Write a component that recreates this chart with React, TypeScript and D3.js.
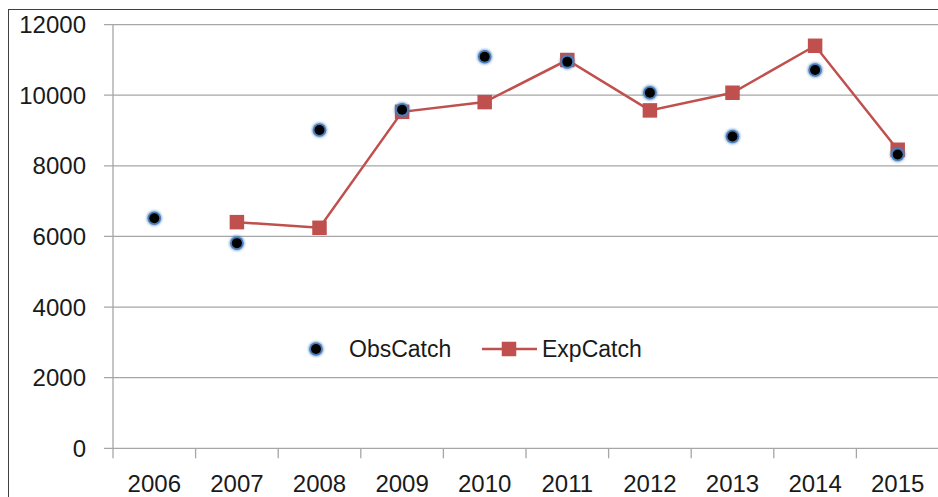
import React from "react";
import * as d3 from "d3";

const years = ["2006", "2007", "2008", "2009", "2010", "2011", "2012", "2013", "2014", "2015"];
const obsCatch: (number | null)[] = [6515, 5810, 9015, 9590, 11090, 10945, 10070, 8830, 10714, 8320];
const expCatch: (number | null)[] = [null, 6405, 6245, 9530, 9805, 10997, 9570, 10070, 11400, 8455];
const yTicks = [0, 2000, 4000, 6000, 8000, 10000, 12000];
const seriesNames = ["ObsCatch", "ExpCatch"];

const W = 938;
const H = 497;
const left = 113;
const right = 939;
const top = 24.6;
const bottom = 448.3;
const FONT = "'Liberation Sans', Arial, sans-serif";
const RED = "#c0504d";
const BLUE = "#4a7ebb";
const GRID = "#a6a6a6";

export default function App() {
  const x = d3.scaleBand<string>().domain(years).range([left, right]).padding(0);
  const y = d3.scaleLinear().domain([0, 12000]).range([bottom, top]);
  const cx = (yr: string) => (x(yr) as number) + x.bandwidth() / 2;

  const expPts = years
    .map((yr, i) => ({ yr, v: expCatch[i] }))
    .filter((d) => d.v !== null) as { yr: string; v: number }[];
  const obsPts = years
    .map((yr, i) => ({ yr, v: obsCatch[i] }))
    .filter((d) => d.v !== null) as { yr: string; v: number }[];

  const line = d3
    .line<{ yr: string; v: number }>()
    .x((d) => cx(d.yr))
    .y((d) => y(d.v));

  const sq = 14.5;

  const Obs = ({ px, py }: { px: number; py: number }) => (
    <g>
      <circle cx={px} cy={py} r={7.8} fill={BLUE} opacity={0.6} filter="url(#glow)" />
      <circle cx={px} cy={py} r={6.8} fill={BLUE} />
      <circle cx={px} cy={py} r={5} fill="#000" />
    </g>
  );

  return (
    <svg
      width={W}
      height={H}
      style={{ position: "absolute", left: 0, top: 0, background: "#fff" }}
    >
      <defs>
        <filter id="glow" x="-50%" y="-50%" width="200%" height="200%">
          <feGaussianBlur stdDeviation="0.8" />
        </filter>
      </defs>
      <rect x={8.5} y={9.5} width={W + 20} height={H + 20} fill="#fff" stroke="#404040" strokeWidth={1} />
      {yTicks.map((t) => (
        <line key={t} x1={left - 9} x2={right} y1={y(t)} y2={y(t)} stroke={GRID} strokeWidth={1.3} />
      ))}
      <line x1={left} x2={left} y1={top} y2={bottom} stroke={GRID} strokeWidth={1.3} />
      {years.concat(["end"]).map((yr, i) => {
        const px = left + i * x.bandwidth();
        return <line key={yr} x1={px} x2={px} y1={bottom} y2={bottom + 10} stroke={GRID} strokeWidth={1.3} />;
      })}
      {yTicks.map((t) => (
        <text key={t} x={86} y={y(t) + 8.5} textAnchor="end" fontFamily={FONT} fontSize={24} fill="#1a1a1a">
          {t}
        </text>
      ))}
      {years.map((yr) => (
        <text key={yr} x={cx(yr)} y={492} textAnchor="middle" fontFamily={FONT} fontSize={24} fill="#1a1a1a">
          {yr}
        </text>
      ))}
      <path d={line(expPts) || ""} fill="none" stroke={RED} strokeWidth={2.5} />
      {expPts.map((d) => (
        <rect key={d.yr} x={cx(d.yr) - sq / 2} y={y(d.v) - sq / 2} width={sq} height={sq} fill={RED} />
      ))}
      {obsPts.map((d) => (
        <Obs key={d.yr} px={cx(d.yr)} py={y(d.v)} />
      ))}
      <Obs px={316} py={349} />
      <text x={349} y={357} fontFamily={FONT} fontSize={23} fill="#1a1a1a">
        {seriesNames[0]}
      </text>
      <line x1={482} x2={537} y1={349} y2={349} stroke={RED} strokeWidth={2.5} />
      <rect x={509 - sq / 2} y={349 - sq / 2} width={sq} height={sq} fill={RED} />
      <text x={542} y={357} fontFamily={FONT} fontSize={23} fill="#1a1a1a">
        {seriesNames[1]}
      </text>
    </svg>
  );
}
